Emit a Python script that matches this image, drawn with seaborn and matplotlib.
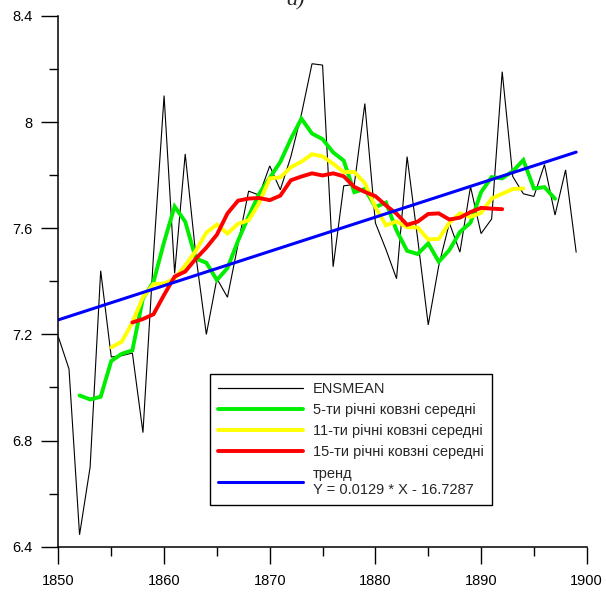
import matplotlib
matplotlib.use("Agg")
import matplotlib.pyplot as plt
import seaborn as sns
import pandas as pd
from matplotlib.ticker import MultipleLocator
from matplotlib.lines import Line2D

# ---- data ----
years = list(range(1850, 1900))
ensmean = [7.19, 7.07, 6.445, 6.70, 7.44, 7.115, 7.12, 7.13, 6.83, 7.50,
           8.10, 7.43, 7.88, 7.50, 7.20, 7.41, 7.34, 7.54, 7.74, 7.725,
           7.835, 7.745, 7.87, 8.03, 8.22, 8.215, 7.455, 7.76, 7.765, 8.07,
           7.62, 7.52, 7.41, 7.87, 7.56, 7.236, 7.46, 7.62, 7.51, 7.757,
           7.58, 7.635, 8.19, 7.795, 7.73, 7.72, 7.84, 7.65, 7.82, 7.51]

ma5_years = list(range(1852, 1898))
ma5 = [6.97, 6.955, 6.965, 7.10, 7.127, 7.14, 7.336, 7.398, 7.548, 7.682,
       7.625, 7.486, 7.47, 7.405, 7.45, 7.553, 7.645, 7.73, 7.79, 7.85,
       7.937, 8.013, 7.957, 7.936, 7.886, 7.855, 7.736, 7.748, 7.68, 7.697,
       7.592, 7.515, 7.503, 7.543, 7.474, 7.518, 7.586, 7.621, 7.736, 7.793,
       7.788, 7.815, 7.857, 7.75, 7.755, 7.711]

ma11_years = list(range(1855, 1895))
ma11 = [7.151, 7.173, 7.245, 7.340, 7.390, 7.392, 7.410, 7.46, 7.515, 7.584,
        7.614, 7.58, 7.617, 7.630, 7.696, 7.788, 7.792, 7.830, 7.851, 7.879,
        7.871, 7.843, 7.812, 7.812, 7.770, 7.680, 7.611, 7.626, 7.604, 7.603,
        7.558, 7.560, 7.621, 7.656, 7.643, 7.658, 7.712, 7.730, 7.748, 7.75]

ma15_years = list(range(1857, 1893))
ma15 = [7.245, 7.258, 7.276, 7.349, 7.418, 7.437, 7.485, 7.527, 7.576, 7.656,
        7.704, 7.712, 7.714, 7.706, 7.723, 7.781, 7.795, 7.807, 7.799, 7.807,
        7.796, 7.756, 7.737, 7.721, 7.686, 7.655, 7.613, 7.625, 7.654, 7.656,
        7.633, 7.640, 7.661, 7.677, 7.674, 7.672]

trend_years = [1850, 1899]
trend = [7.255, 7.887]

labels = ["ENSMEAN",
          "5-ти річні ковзні середні",
          "11-ти річні ковзні середні",
          "15-ти річні ковзні середні",
          "тренд\nY = 0.0129 * X - 16.7287"]

x_ticks = [1850, 1860, 1870, 1880, 1890, 1900]
y_ticks = [6.4, 6.8, 7.2, 7.6, 8.0, 8.4]
y_ticklabels = ["6.4", "6.8", "7.2", "7.6", "8", "8.4"]

# ---- style ----
sns.set_style("ticks")
plt.rcParams['font.family'] = ['Liberation Sans', 'DejaVu Sans']

fig = plt.figure(figsize=(6.06, 5.94), dpi=100)
ax = fig.add_axes([0.0964, 0.0796, 0.8718, 0.8935])

series = [
    (years, ensmean, "black", 0.8),
    (ma5_years, ma5, "#00ee00", 2.8),
    (ma11_years, ma11, "#ffff00", 2.8),
    (ma15_years, ma15, "#ff0000", 2.8),
    (trend_years, trend, "#0000ff", 2.2),
]
for (xs, ys, c, lw), lab in zip(series, labels):
    df = pd.DataFrame({"year": xs, "value": ys})
    sns.lineplot(data=df, x="year", y="value", ax=ax, color=c, linewidth=lw,
                 label=lab, legend=False, solid_joinstyle="miter")

ax.set_xlim(1850, 1900)
ax.set_ylim(6.4, 8.4)
ax.set_xticks(x_ticks)
ax.set_xticklabels([str(t) for t in x_ticks])
ax.set_yticks(y_ticks)
ax.set_yticklabels(y_ticklabels)
ax.xaxis.set_minor_locator(MultipleLocator(5))
ax.yaxis.set_minor_locator(MultipleLocator(0.2))
ax.set_xlabel("")
ax.set_ylabel("")
for s in ["top", "right"]:
    ax.spines[s].set_visible(False)
for s in ["left", "bottom"]:
    ax.spines[s].set_color("black")
    ax.spines[s].set_linewidth(1.1)
ax.tick_params(axis="both", which="major", direction="out", length=12.5,
               width=1.0, colors="black", labelsize=10.5)
ax.tick_params(axis="both", which="minor", direction="out", length=6.5,
               width=1.0, colors="black")
ax.tick_params(axis="x", which="major", pad=7)
ax.tick_params(axis="y", which="major", pad=6)

handles = [Line2D([0], [0], color=c, linewidth=lw) for (_, _, c, lw) in series]
handles[0].set_linewidth(0.9)
leg = ax.legend(handles, labels, loc="lower left",
                bbox_to_anchor=(0.287, 0.0786), fontsize=10.5,
                frameon=True, fancybox=False, edgecolor="black",
                framealpha=1.0, handlelength=5.8, handletextpad=0.7,
                labelspacing=0.5, borderpad=0.55, borderaxespad=0.0)
leg.get_frame().set_linewidth(1.0)

fig.text(0.487, 0.9916, "a)", fontsize=16, fontstyle="italic",
         family=["Liberation Serif", "DejaVu Serif"], ha="center", va="baseline")

fig.savefig("out.png", dpi=100)
